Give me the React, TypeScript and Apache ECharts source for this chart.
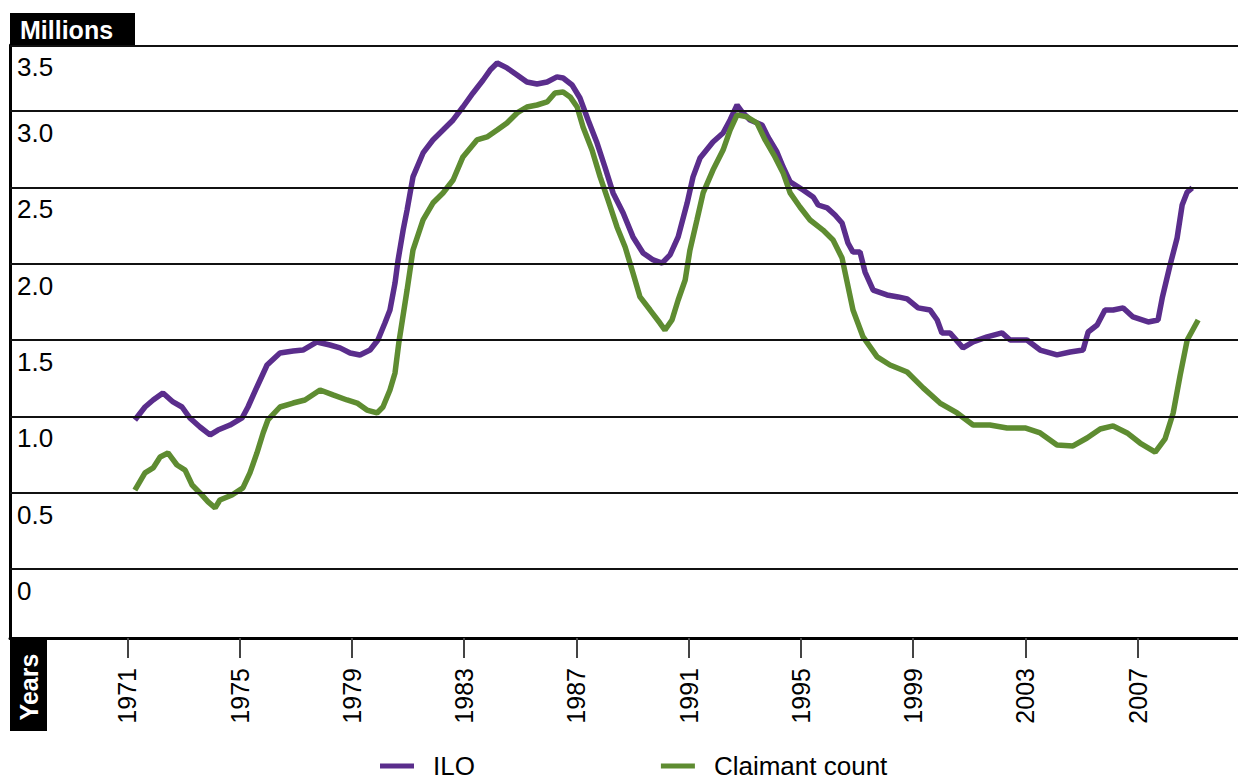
import React, { useEffect, useRef } from 'react';
import * as echarts from 'echarts';

// ILO unemployment (millions)
const iloYears = [
  1971.27, 1971.63, 1971.92, 1972.27, 1972.63, 1972.95, 1973.23, 1973.59, 1973.95, 1974.23,
  1974.66, 1975.09, 1975.3, 1975.62, 1975.98, 1976.44, 1976.91, 1977.26, 1977.76, 1978.22,
  1978.58, 1978.94, 1979.29, 1979.65, 1979.93, 1980.18, 1980.36, 1980.54, 1980.65, 1980.83,
  1980.97, 1981.18, 1981.54, 1981.89, 1982.25, 1982.61, 1982.96, 1983.32, 1983.68, 1983.93,
  1984.18, 1984.53, 1984.89, 1985.24, 1985.6, 1985.96, 1986.31, 1986.53, 1986.85, 1987.13,
  1987.42, 1987.74, 1988.02, 1988.31, 1988.67, 1989.02, 1989.38, 1989.74, 1990.06, 1990.34,
  1990.63, 1990.95, 1991.16, 1991.41, 1991.87, 1992.23, 1992.48, 1992.73, 1992.91, 1993.19,
  1993.62, 1993.83, 1994.15, 1994.37, 1994.62, 1995.08, 1995.44, 1995.62, 1995.94, 1996.22,
  1996.47, 1996.68, 1996.86, 1997.11, 1997.29, 1997.58, 1998.07, 1998.47, 1998.79, 1999.18,
  1999.61, 1999.86, 2000.03, 2000.32, 2000.78, 2001.14, 2001.64, 2002.17, 2002.46, 2003.06,
  2003.53, 2004.13, 2004.6, 2005.06, 2005.24, 2005.56, 2005.84, 2006.13, 2006.49, 2006.84,
  2007.38, 2007.73, 2007.88, 2008.16, 2008.41, 2008.59, 2008.77, 2008.95,
];
const iloValues = [
  0.976, 1.061, 1.107, 1.153, 1.094, 1.061, 0.989, 0.93, 0.878, 0.91,
  0.943, 0.989, 1.061, 1.192, 1.336, 1.415, 1.428, 1.434, 1.487, 1.467,
  1.448, 1.415, 1.402, 1.434, 1.5, 1.611, 1.696, 1.873, 2.024, 2.22,
  2.351, 2.568, 2.725, 2.81, 2.875, 2.941, 3.026, 3.118, 3.203, 3.268,
  3.314, 3.282, 3.236, 3.19, 3.177, 3.19, 3.223, 3.216, 3.17, 3.085,
  2.941, 2.79, 2.633, 2.463, 2.332, 2.175, 2.07, 2.024, 2.004, 2.057,
  2.175, 2.397, 2.568, 2.692, 2.797, 2.856, 2.941, 3.039, 2.993, 2.941,
  2.908, 2.83, 2.731, 2.633, 2.535, 2.482, 2.437, 2.384, 2.365, 2.319,
  2.266, 2.135, 2.076, 2.076, 1.945, 1.827, 1.795, 1.782, 1.769, 1.71,
  1.696, 1.631, 1.546, 1.546, 1.448, 1.487, 1.52, 1.546, 1.5, 1.5,
  1.434, 1.402, 1.421, 1.434, 1.552, 1.598, 1.696, 1.696, 1.71, 1.651,
  1.618, 1.631, 1.775, 1.991, 2.168, 2.384, 2.469, 2.496,
];

// Claimant count (millions)
const claimantYears = [
  1971.27, 1971.63, 1971.92, 1972.17, 1972.45, 1972.77, 1973.06, 1973.31, 1973.59, 1973.88,
  1974.13, 1974.3, 1974.73, 1975.12, 1975.37, 1975.62, 1975.84, 1976.01, 1976.44, 1976.91,
  1977.33, 1977.87, 1978.33, 1978.83, 1979.19, 1979.54, 1979.9, 1980.11, 1980.36, 1980.54,
  1980.68, 1980.97, 1981.18, 1981.54, 1981.89, 1982.25, 1982.61, 1982.96, 1983.46, 1983.82,
  1984.18, 1984.53, 1984.89, 1985.24, 1985.6, 1985.96, 1986.24, 1986.53, 1986.78, 1987.03,
  1987.24, 1987.56, 1987.85, 1988.13, 1988.45, 1988.74, 1989.02, 1989.27, 1989.63, 1989.98,
  1990.16, 1990.41, 1990.63, 1990.88, 1991.05, 1991.3, 1991.52, 1991.87, 1992.23, 1992.48,
  1992.73, 1993.08, 1993.44, 1993.73, 1994.08, 1994.37, 1994.62, 1994.97, 1995.33, 1995.79,
  1996.15, 1996.47, 1996.65, 1996.86, 1997.22, 1997.72, 1998.18, 1998.79, 1999.36, 1999.96,
  2000.57, 2001.14, 2001.74, 2002.35, 2002.99, 2003.53, 2004.13, 2004.7, 2005.2, 2005.67,
  2006.13, 2006.63, 2007.09, 2007.63, 2007.98, 2008.27, 2008.52, 2008.77, 2009.16,
];
const claimantValues = [
  0.517, 0.629, 0.662, 0.734, 0.76, 0.681, 0.648, 0.55, 0.498, 0.439,
  0.4, 0.452, 0.485, 0.531, 0.629, 0.76, 0.891, 0.976, 1.061, 1.087,
  1.107, 1.172, 1.14, 1.107, 1.087, 1.041, 1.022, 1.061, 1.172, 1.284,
  1.487, 1.827, 2.089, 2.286, 2.397, 2.463, 2.548, 2.699, 2.81, 2.83,
  2.875, 2.921, 2.987, 3.026, 3.039, 3.059, 3.118, 3.124, 3.092, 3.026,
  2.895, 2.744, 2.568, 2.417, 2.24, 2.109, 1.939, 1.782, 1.696, 1.611,
  1.565, 1.631, 1.762, 1.893, 2.089, 2.286, 2.463, 2.613, 2.744, 2.875,
  2.974, 2.961, 2.921, 2.81, 2.699, 2.594, 2.463, 2.371, 2.286, 2.22,
  2.155, 2.037, 1.88, 1.696, 1.52, 1.389, 1.336, 1.29, 1.186, 1.087,
  1.022, 0.943, 0.943, 0.924, 0.924, 0.891, 0.812, 0.806, 0.858, 0.917,
  0.937, 0.891, 0.825, 0.766, 0.852, 1.022, 1.271, 1.5, 1.631,
];

const xTickYears = [1971, 1975, 1979, 1983, 1987, 1991, 1995, 1999, 2003, 2007];
const yTickValues = [0, 0.5, 1.0, 1.5, 2.0, 2.5, 3.0, 3.5];
const yTickLabels = ['0', '0.5', '1.0', '1.5', '2.0', '2.5', '3.0', '3.5'];
const seriesNames = ['ILO', 'Claimant count'];
const seriesColors = ['#5a2d8c', '#5e8c31'];

const X_MIN = 1966.82;
const X_MAX = 2010.58;
const Y_MIN = -0.452;
const Y_MAX = 3.432;
const FONT = '"Liberation Sans", Arial, Helvetica, sans-serif';

function zip(xs: number[], ys: number[]) {
  return xs.map((x, i) => [x, ys[i]]);
}

export default function App() {
  const ref = useRef<HTMLDivElement>(null);

  useEffect(() => {
    if (!ref.current) return;
    const chart = echarts.init(ref.current, null, { renderer: 'svg' });
    chart.setOption({
      animation: false,
      backgroundColor: '#fff',
      textStyle: { fontFamily: FONT },
      grid: { left: 10, right: 0, top: 45, bottom: 143, containLabel: false, outerBoundsMode: 'none' },
      xAxis: {
        type: 'value',
        min: X_MIN,
        max: X_MAX,
        axisLine: { show: true, onZero: false, lineStyle: { color: '#000', width: 3 } },
        axisTick: { show: true, customValues: xTickYears, length: 20, lineStyle: { color: '#444', width: 2 } },
        axisLabel: {
          show: true,
          customValues: xTickYears,
          rotate: 90,
          fontSize: 25,
          color: '#000',
          margin: 30,
          fontFamily: FONT,
          formatter: (v: number) => String(Math.round(v)),
        },
        splitLine: { show: false },
      },
      yAxis: {
        type: 'value',
        min: Y_MIN,
        max: Y_MAX,
        axisLine: { show: true, onZero: false, lineStyle: { color: '#000', width: 3 } },
        axisTick: { show: false },
        axisLabel: { show: false },
        splitLine: { show: false },
      },
      legend: {
        data: seriesNames,
        left: 375,
        top: 748,
        itemGap: 186,
        itemWidth: 34,
        itemHeight: 5,
        icon: 'rect',
        textStyle: { fontSize: 26, color: '#000', fontFamily: FONT, padding: [0, 0, 0, 14] },
      },
      graphic: [
        { type: 'rect', shape: { x: 10, y: 13, width: 125, height: 32 }, style: { fill: '#000' } },
        {
          type: 'text',
          x: 20,
          y: 30,
          style: { text: 'Millions', fill: '#fff', font: `bold 25px ${FONT}`, verticalAlign: 'middle' },
        },
        { type: 'rect', shape: { x: 10, y: 638, width: 37, height: 93 }, style: { fill: '#000' } },
        {
          type: 'text',
          x: 29,
          y: 687,
          rotation: Math.PI / 2,
          style: { text: 'Years', fill: '#fff', font: `bold 25px ${FONT}`, align: 'center', verticalAlign: 'middle' },
        },
      ],
      series: [
        {
          name: 'gridlines',
          type: 'line',
          data: [],
          silent: true,
          z: 1,
          markLine: {
            silent: true,
            symbol: ['none', 'none'],
            animation: false,
            lineStyle: { color: '#111', width: 2, type: 'solid' },
            label: {
              show: true,
              position: 'insideStartBottom',
              fontSize: 26,
              color: '#000',
              fontFamily: FONT,
              distance: [7, 9],
              formatter: (p: any) => p.name,
            },
            emphasis: { disabled: true },
            data: yTickValues.map((v, i) => ({ yAxis: Math.min(v, Y_MAX), name: yTickLabels[i] })),
          },
        },
        {
          name: seriesNames[0],
          type: 'line',
          data: zip(iloYears, iloValues),
          showSymbol: false,
          z: 3,
          color: seriesColors[0],
          lineStyle: { color: seriesColors[0], width: 5.5 },
        },
        {
          name: seriesNames[1],
          type: 'line',
          data: zip(claimantYears, claimantValues),
          showSymbol: false,
          z: 4,
          color: seriesColors[1],
          lineStyle: { color: seriesColors[1], width: 5.5 },
        },
      ],
    });
    return () => chart.dispose();
  }, []);

  return (
    <div
      ref={ref}
      style={{ position: 'fixed', left: 0, top: 0, width: 1238, height: 781, background: '#fff' }}
    />
  );
}
